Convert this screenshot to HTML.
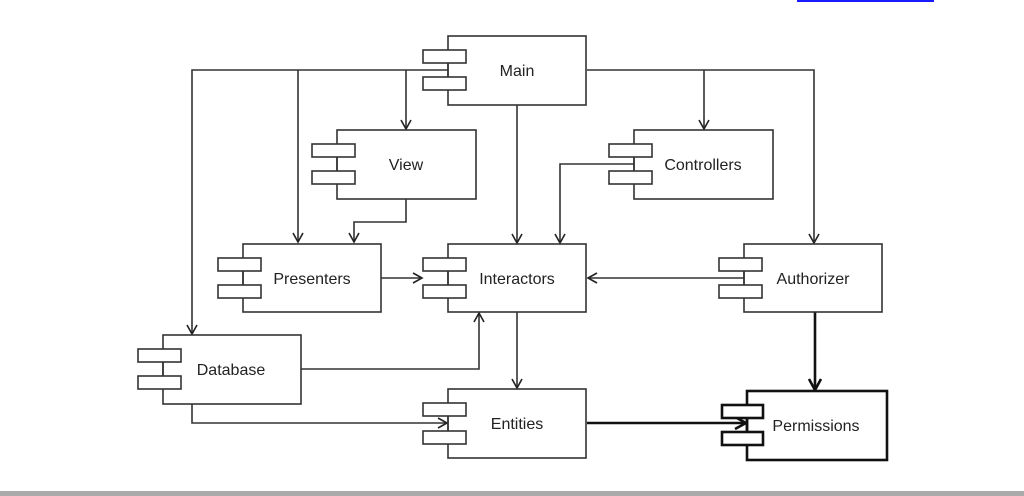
<!DOCTYPE html>
<html><head><style>
html,body{margin:0;padding:0;background:#fff;}
svg{display:block}
text{font-family:"Liberation Sans",sans-serif;font-size:16px;fill:#222;}
</style></head><body>
<svg width="1024" height="496" viewBox="0 0 1024 496" xmlns="http://www.w3.org/2000/svg">
<defs>
<marker id="a" markerWidth="12" markerHeight="12" refX="10" refY="6" orient="auto" markerUnits="userSpaceOnUse">
<path d="M1,1 L10,6 L1,11" fill="none" stroke="#222" stroke-width="1.6"/></marker>
<marker id="b" markerWidth="14" markerHeight="14" refX="12" refY="7" orient="auto" markerUnits="userSpaceOnUse">
<path d="M1,1 L12,7 L1,13" fill="none" stroke="#111" stroke-width="2.6"/></marker>
</defs>
<rect x="797" y="0" width="137" height="2" fill="#1a1aff"/>
<rect x="0" y="491" width="1024" height="5" fill="#aaa"/>
<g fill="none" stroke="#333" stroke-width="1.6">
<!-- connectors -->
<path d="M448 70 H192 V334" marker-end="url(#a)"/>
<path d="M298 70 V242" marker-end="url(#a)"/>
<path d="M406 70 V129" marker-end="url(#a)"/>
<path d="M587 70 H814 V243" marker-end="url(#a)"/>
<path d="M704 70 V129" marker-end="url(#a)"/>
<path d="M517 105 V243" marker-end="url(#a)"/>
<path d="M634 164 H560 V243" marker-end="url(#a)"/>
<path d="M406 199 V222 H354 V242" marker-end="url(#a)"/>
<path d="M381 278 H422" marker-end="url(#a)"/>
<path d="M744 278 H588" marker-end="url(#a)"/>
<path d="M517 312 V388" marker-end="url(#a)"/>
<path d="M301 369 H479 V313" marker-end="url(#a)"/>
<path d="M192 404 V423 H447" marker-end="url(#a)"/>
</g>
<g fill="none" stroke="#111" stroke-width="2.6">
<path d="M587 423 H746" marker-end="url(#b)"/>
<path d="M815 312 V390" marker-end="url(#b)"/>
</g>
<g stroke="#333" stroke-width="1.6" fill="#fff">
<rect x="448" y="36" width="138" height="69"/><rect x="423" y="50" width="43" height="13"/><rect x="423" y="77" width="43" height="13"/>
<rect x="337" y="130" width="139" height="69"/><rect x="312" y="144" width="43" height="13"/><rect x="312" y="171" width="43" height="13"/>
<rect x="634" y="130" width="139" height="69"/><rect x="609" y="144" width="43" height="13"/><rect x="609" y="171" width="43" height="13"/>
<rect x="243" y="244" width="138" height="68"/><rect x="218" y="258" width="43" height="13"/><rect x="218" y="285" width="43" height="13"/>
<rect x="448" y="244" width="138" height="68"/><rect x="423" y="258" width="43" height="13"/><rect x="423" y="285" width="43" height="13"/>
<rect x="744" y="244" width="138" height="68"/><rect x="719" y="258" width="43" height="13"/><rect x="719" y="285" width="43" height="13"/>
<rect x="163" y="335" width="138" height="69"/><rect x="138" y="349" width="43" height="13"/><rect x="138" y="376" width="43" height="13"/>
<rect x="448" y="389" width="138" height="69"/><rect x="423" y="403" width="43" height="13"/><rect x="423" y="431" width="43" height="13"/>
</g>
<g stroke="#111" stroke-width="2.6" fill="#fff">
<rect x="747" y="391" width="140" height="69"/><rect x="722" y="405" width="41" height="13"/><rect x="722" y="432" width="41" height="13"/>
</g>
<g stroke="#333" stroke-width="1.6" fill="none">
<path d="M448 63 V77 M337 157 V171 M634 157 V171 M243 271 V285 M448 271 V285 M744 271 V285 M163 362 V376 M448 416 V431"/>
</g>
<path d="M747 418 V432" stroke="#111" stroke-width="2.6"/>
<text x="517" y="76" text-anchor="middle">Main</text>
<text x="406" y="170" text-anchor="middle">View</text>
<text x="703" y="170" text-anchor="middle">Controllers</text>
<text x="312" y="284" text-anchor="middle">Presenters</text>
<text x="517" y="284" text-anchor="middle">Interactors</text>
<text x="813" y="284" text-anchor="middle">Authorizer</text>
<text x="231" y="375" text-anchor="middle">Database</text>
<text x="517" y="429" text-anchor="middle">Entities</text>
<text x="816" y="431" text-anchor="middle">Permissions</text>
</svg>
</body></html>
